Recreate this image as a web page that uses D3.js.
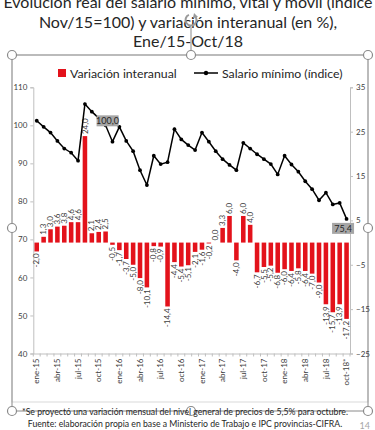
<!DOCTYPE html>
<html><head><meta charset="utf-8">
<script src="https://cdn.jsdelivr.net/npm/d3@7"></script>
<style>
html,body{margin:0;padding:0;background:#fff;}
svg{display:block;font-family:Lato,"Open Sans",sans-serif;}
</style></head><body>
<svg id="c" width="375" height="430"></svg>
<script>
const months = ["ene-15","feb-15","mar-15","abr-15","may-15","jun-15","jul-15","ago-15","sep-15","oct-15","nov-15","dic-15",
"ene-16","feb-16","mar-16","abr-16","may-16","jun-16","jul-16","ago-16","sep-16","oct-16","nov-16","dic-16",
"ene-17","feb-17","mar-17","abr-17","may-17","jun-17","jul-17","ago-17","sep-17","oct-17","nov-17","dic-17",
"ene-18","feb-18","mar-18","abr-18","may-18","jun-18","jul-18","ago-18","sep-18","oct-18*"];
const variacion = [-2.0,1.3,3.0,3.6,3.8,4.6,4.6,24.0,2.1,2.4,2.5,-0.5,
-1.7,-3.7,-5.0,-8.0,-10.1,-0.8,-0.9,-14.4,-4.4,-5.4,-5.1,-2.1,
-1.6,-0.2,0.0,3.3,6.0,-4.0,6.0,4.0,-6.7,-5.5,-5.2,-6.8,
-6.0,-6.4,-5.8,-6.4,-7.0,-9.0,-13.9,-15.7,-13.9,-17.2];
const salario = [101.2,99.6,98.1,95.9,93.9,92.8,90.7,105.6,103.6,101.9,100.0,95.7,
99.6,95.9,93.2,88.2,84.3,92.0,89.8,90.3,99.0,96.3,94.8,93.5,
98.1,95.7,93.2,91.1,89.6,88.2,95.4,93.9,92.4,91.1,89.8,87.1,
92.0,89.7,87.8,85.3,83.2,80.3,82.3,79.2,79.6,75.4];
const leftTicks = [40,50,60,70,80,90,100,110];
const rightTicks = [-25,-15,-5,5,15,25,35];
const tickMonths = months.filter((m,i)=>i%3===0);
const titleLines = ["Evolución real del salario mínimo, vital y móvil (índice","Nov/15=100) y variación interanual (en %),","Ene/15-Oct/18"];
const legendLabels = ["Variación interanual","Salario mínimo (índice)"];
const labeledPoints = ["nov-15","oct-18*"];
const notes = ["*Se proyectó una variación mensual del nivel general de precios de 5,5% para octubre.","Fuente: elaboración propia en base a Ministerio de Trabajo e IPC provincias-CIFRA."];

const svg = d3.select("#c");
const fmt = v => v.toFixed(1).replace(".",",");
const L=33.3, R=350, T=87.3, B=353.5;
const x = d3.scaleBand().domain(months).range([L,R]).paddingInner(0.34).paddingOuter(0.17);
const yL = d3.scaleLinear().domain([40,110]).range([B,T]);
const yR = d3.scaleLinear().domain([-25,35]).range([B,T]);
const cx = m => x(m)+x.bandwidth()/2;

// frames
svg.append("rect").attr("x",12).attr("y",55).attr("width",356).attr("height",347).attr("fill","none").attr("stroke","#d9d9d9");
svg.append("rect").attr("x",12).attr("y",55).attr("width",356).attr("height",356).attr("fill","none").attr("stroke","#8a8a8a").attr("stroke-width",1);

// title
svg.append("g").selectAll("text").data(titleLines).join("text")
  .attr("x",188).attr("y",(d,i)=>8+i*19.5).attr("text-anchor","middle")
  .attr("font-size",16).attr("fill","#262626").text(d=>d);

// rotate icon
const ic = svg.append("g").attr("transform","translate(191,20)");
ic.append("path").attr("d",d3.arc()({innerRadius:4.5,outerRadius:6.5,startAngle:0.6,endAngle:5.9})).attr("fill","#9a9a9a");
ic.append("path").attr("d","M3,-7 L7,-3 L2,-2 Z").attr("fill","#9a9a9a");
svg.append("line").attr("x1",191).attr("x2",191).attr("y1",27).attr("y2",55).attr("stroke","#8a8a8a");

// legend
svg.append("rect").attr("x",58).attr("y",69).attr("width",8).attr("height",8).attr("fill","#e3121b");
svg.append("text").attr("x",70).attr("y",77.5).attr("font-size",12.3).attr("fill","#262626").text(legendLabels[0]);
svg.append("line").attr("x1",194).attr("x2",218).attr("y1",73).attr("y2",73).attr("stroke","#000").attr("stroke-width",1.5);
svg.append("circle").attr("cx",206).attr("cy",73).attr("r",2.2).attr("fill","#000");
svg.append("text").attr("x",222).attr("y",77.5).attr("font-size",12.3).attr("fill","#262626").text(legendLabels[1]);

// axes
const gL = svg.append("g").attr("transform",`translate(${L},0)`)
  .call(d3.axisLeft(yL).tickValues(leftTicks).tickSize(3).tickPadding(3));
const gR = svg.append("g").attr("transform",`translate(${R},0)`)
  .call(d3.axisRight(yR).tickValues(rightTicks).tickSize(3).tickPadding(3));
const gX = svg.append("g").attr("transform",`translate(0,${B})`)
  .call(d3.axisBottom(x).tickValues(months).tickSize(0).tickFormat(""));
[gL,gR,gX].forEach(g=>{
  g.select(".domain").attr("stroke","#bfbfbf");
  g.selectAll(".tick line").attr("stroke","#bfbfbf");
  g.selectAll("text").attr("font-size",8).attr("fill","#404040").attr("font-family","Lato,sans-serif");
});
// month tick marks at band edges
svg.append("g").selectAll("line").data(d3.range(months.length+1)).join("line")
  .attr("x1",i=>L+i*(R-L)/months.length).attr("x2",i=>L+i*(R-L)/months.length)
  .attr("y1",B).attr("y2",B+3).attr("stroke","#bfbfbf");
svg.append("g").selectAll("text").data(tickMonths).join("text")
  .attr("transform",d=>`translate(${cx(d)},${B+5}) rotate(-90)`)
  .attr("text-anchor","end").attr("dy","0.33em").attr("font-size",8).attr("fill","#404040").text(d=>d);

// bars
const bars = months.map((m,i)=>({m,v:variacion[i]}));
svg.append("g").selectAll("rect").data(bars).join("rect")
  .attr("x",d=>x(d.m)).attr("width",x.bandwidth())
  .attr("y",d=>yR(Math.max(0,d.v))).attr("height",d=>Math.abs(yR(d.v)-yR(0)))
  .attr("fill","#e3121b");
svg.append("g").selectAll("text").data(bars).join("text")
  .attr("transform",d=>`translate(${cx(d.m)},${d.v>=0?yR(d.v)-2:yR(d.v)+2}) rotate(-90)`)
  .attr("text-anchor",d=>d.v>=0?"start":"end").attr("dy","0.33em")
  .attr("font-size",8).attr("fill","#404040").text(d=>fmt(d.v));

// line
const pts = months.map((m,i)=>({m,v:salario[i]}));
svg.append("path").datum(pts)
  .attr("d",d3.line().x(d=>cx(d.m)).y(d=>yL(d.v)))
  .attr("fill","none").attr("stroke","#000").attr("stroke-width",1.5);
svg.append("g").selectAll("circle").data(pts).join("circle")
  .attr("cx",d=>cx(d.m)).attr("cy",d=>yL(d.v)).attr("r",1.9).attr("fill","#000");

// point labels
const lab = pts.filter(p=>labeledPoints.includes(p.m));
const lg = svg.append("g").selectAll("g").data(lab).join("g")
  .attr("transform",(d,i)=> i===0 ? `translate(${cx(d.m)+2},${yL(d.v)-4})` : `translate(${cx(d.m)-3.5},${yL(d.v)+10})`);
lg.append("rect").attr("x",-11).attr("y",-6).attr("width",22).attr("height",11).attr("fill","#a6a6a6");
lg.append("text").attr("text-anchor","middle").attr("dy","0.33em").attr("font-size",9).attr("fill","#262626").text(d=>fmt(d.v));

// handles
const handles = [[12,55],[191,55],[368,55],[12,228],[368,228],[12,411],[191,411],[368,411]];
svg.append("g").selectAll("circle").data(handles).join("circle")
  .attr("cx",d=>d[0]).attr("cy",d=>d[1]).attr("r",4.5).attr("fill","#fff").attr("stroke","#8a8a8a").attr("stroke-width",1.2);

// notes
svg.append("g").selectAll("text").data(notes).join("text")
  .attr("x",185).attr("y",(d,i)=>414.5+i*12.5).attr("text-anchor","middle")
  .attr("font-size",8.7).attr("fill","#262626").text(d=>d);
svg.append("text").attr("x",370).attr("y",429).attr("text-anchor","end").attr("font-size",9).attr("fill","#a6a6a6").text("14");
</script>
</body></html>
